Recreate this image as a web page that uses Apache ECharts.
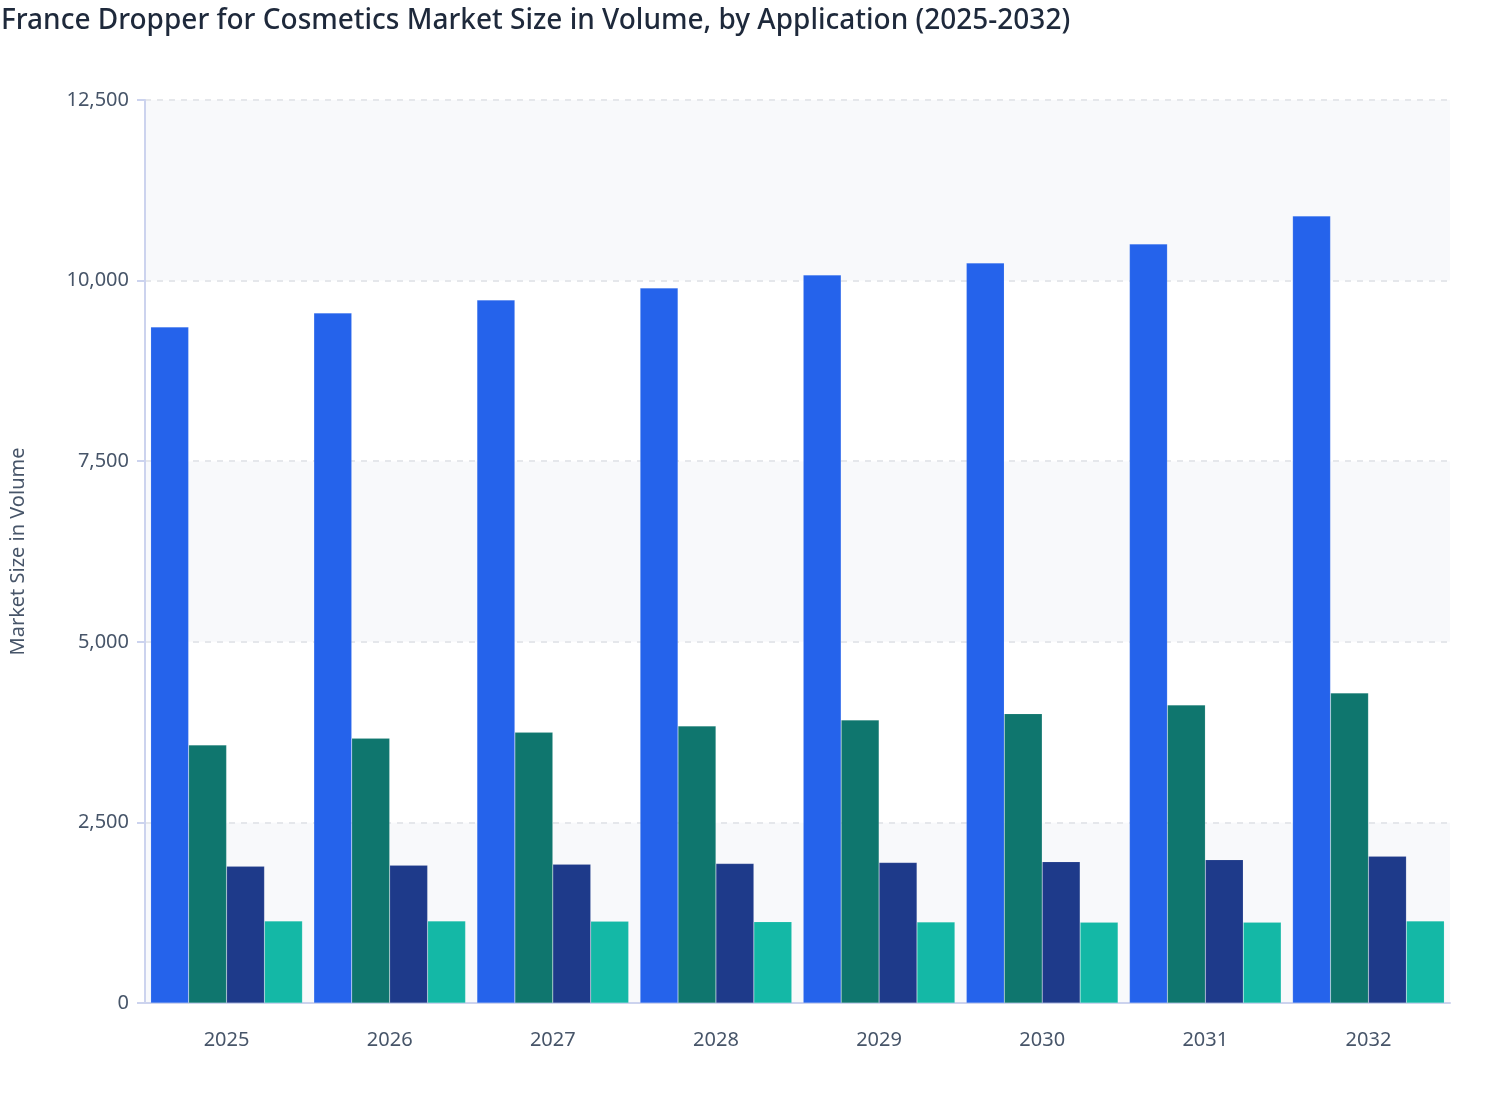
<!DOCTYPE html>
<html>
<head>
<meta charset="utf-8">
<script src="https://cdn.jsdelivr.net/npm/echarts@6/dist/echarts.min.js"></script>
<style>html,body{margin:0;padding:0;background:#fff}#c{width:1508px;height:1120px}</style>
</head>
<body>
<div id="c"></div>
<script>
const years = ['2025','2026','2027','2028','2029','2030','2031','2032'];
const seriesA = [9358, 9551, 9731, 9897, 10078, 10244, 10507, 10894];
const seriesB = [3571, 3664, 3747, 3834, 3917, 4005, 4125, 4291];
const seriesC = [1892, 1906, 1920, 1931, 1945, 1956, 1984, 2031];
const seriesD = [1135, 1135, 1131, 1125, 1121, 1117, 1117, 1135];
const colors = ['#2563eb', '#0f766e', '#1e3a8a', '#14b8a6'];

const chart = echarts.init(document.getElementById('c'), null, {renderer: 'canvas'});
const mk = (name, data, color) => ({
  name, type: 'bar', data, barGap: '0%', barCategoryGap: '7%',
  itemStyle: {color, borderColor: 'rgba(255,255,255,0.25)', borderWidth: 0.5}
});
chart.setOption({
  animation: false,
  title: {
    text: 'France Dropper for Cosmetics Market Size in Volume, by Application (2025-2032)',
    left: -4, top: 2,
    textStyle: {fontFamily: 'Noto Sans', fontSize: 28, fontWeight: 500, color: '#1e293b'}
  },
  grid: {left: 144, right: 58, top: 100, bottom: 117},
  xAxis: {
    type: 'category', data: years,
    axisLine: {lineStyle: {color: '#ccd3ee', width: 2}},
    axisTick: {alignWithLabel: true, length: 6, lineStyle: {color: '#ccd3ee', width: 2}},
    axisLabel: {fontFamily: 'Noto Sans', fontSize: 20, color: '#475569', margin: 27}
  },
  yAxis: {
    type: 'value', min: 0, max: 12500, interval: 2500,
    name: 'Market Size in Volume', nameLocation: 'middle', nameGap: 117,
    nameTextStyle: {fontFamily: 'Noto Sans', fontSize: 20, color: '#475569'},
    axisLine: {show: true, lineStyle: {color: '#ccd3ee', width: 2}},
    axisTick: {show: true, length: 8, lineStyle: {color: '#ccd3ee', width: 2}},
    axisLabel: {fontFamily: 'Noto Sans', fontSize: 20, color: '#475569', margin: 16,
      formatter: v => v.toLocaleString('en-US')},
    splitLine: {lineStyle: {color: '#e5e7eb', type: [6, 6], width: 2}},
    splitArea: {show: true, areaStyle: {color: ['#f8f9fb', '#ffffff']}}
  },
  series: [
    mk('A', seriesA, colors[0]),
    mk('B', seriesB, colors[1]),
    mk('C', seriesC, colors[2]),
    mk('D', seriesD, colors[3])
  ]
});
</script>
</body>
</html>
